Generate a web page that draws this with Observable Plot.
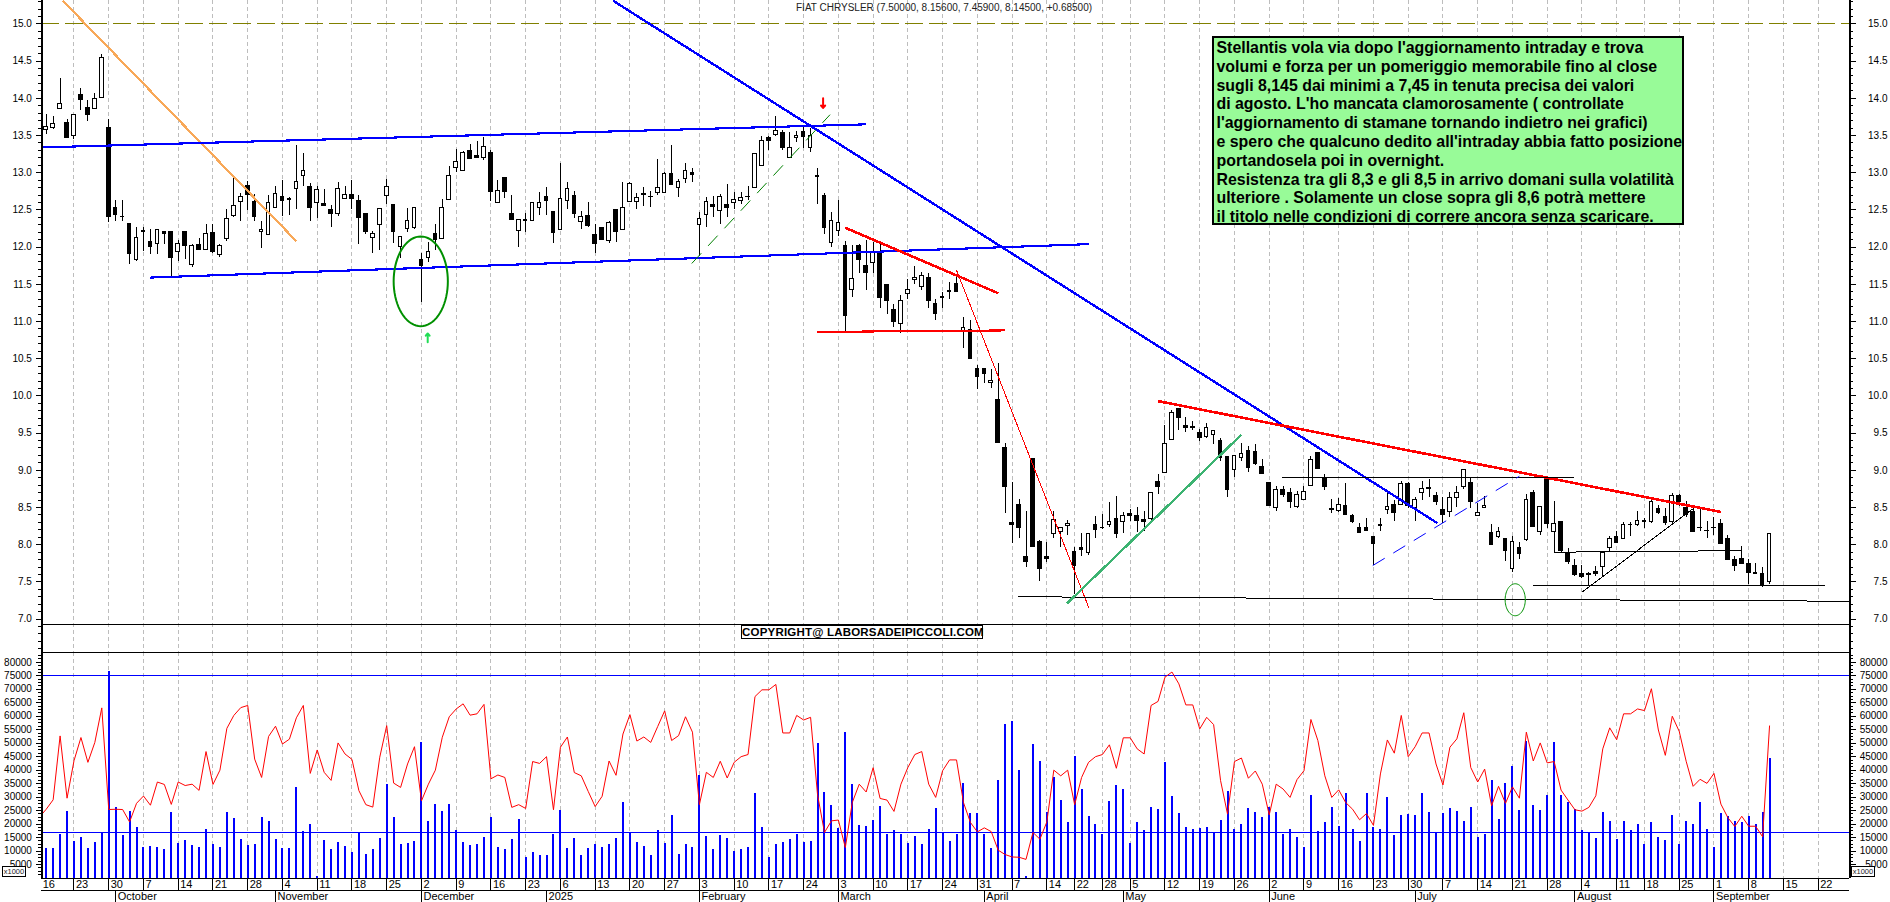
<!DOCTYPE html>
<html><head><meta charset="utf-8">
<script src="https://cdn.jsdelivr.net/npm/d3@7"></script>
<script src="https://cdn.jsdelivr.net/npm/@observablehq/plot@0.6"></script>
<style>
html,body{margin:0;padding:0;background:#fff;overflow:hidden}
#wrap{position:relative;width:1890px;height:902px;overflow:hidden;font-family:"Liberation Sans",Arial,sans-serif;color:#000}
#wrap svg{position:absolute;left:0;max-width:none}
.abs{position:absolute;white-space:pre;box-sizing:border-box}
#note{left:1212px;top:36px;width:472px;height:189px;background:#98FB98;border:2.5px solid #000;font:bold 15.9px/18.8px "Liberation Sans",Arial,sans-serif;padding:1px 0 0 2.5px;letter-spacing:0}
#title{left:796px;top:2px;font-size:10px;color:#222}
#copy{left:741px;top:625px;width:242px;height:14px;background:#fff;border:1px solid #000;font:bold 11.5px/12px "Liberation Sans",Arial,sans-serif;text-align:center;letter-spacing:.2px}
.k{font-size:7.5px;border:1px solid #000;height:11px;line-height:10px;text-align:center;background:#fff;color:#222}
</style></head><body><div id="wrap"></div>
<script>
const open=[13.57,13.6,13.86,13.67,13.49,14.04,13.87,13.86,14.0,13.6,
12.52,12.41,12.31,11.83,12.22,12.07,12.04,12.2,12.2,11.93,
12.2,11.76,12.03,11.96,12.19,11.89,12.11,12.42,12.6,12.82,
12.6,12.2,12.16,12.53,12.67,12.63,12.78,12.96,12.81,12.59,
12.58,12.5,12.45,12.64,12.7,12.62,12.44,12.12,12.3,12.69,
12.57,12.0,12.24,12.26,11.83,11.85,12.18,12.11,12.63,13.06,
13.02,13.29,13.22,13.2,13.26,12.59,12.93,12.44,12.22,12.36,
12.35,12.53,12.68,12.47,12.23,12.62,12.69,12.34,12.42,12.16,
12.26,12.08,12.5,12.23,12.6,12.61,12.71,12.68,12.73,12.73,
12.98,12.79,12.92,12.99,12.3,12.43,12.56,12.48,12.57,12.59,
12.62,12.68,12.8,13.09,13.46,13.51,13.54,13.2,13.47,13.55,
13.33,12.95,12.69,12.05,12.21,12.01,11.42,12.01,11.74,11.79,
11.93,11.49,11.15,10.96,11.37,11.56,11.46,11.58,11.23,11.33,
11.41,11.5,10.87,10.88,10.36,10.36,10.17,9.95,9.3,8.29,
8.54,7.83,9.15,8.04,7.84,8.15,8.17,8.25,7.9,7.95,
7.89,8.26,8.23,8.26,8.34,8.3,8.41,8.39,8.33,8.35,
8.84,8.96,9.41,9.82,9.6,9.58,9.5,9.45,9.48,9.4,
9.18,9.0,9.17,9.26,9.25,9.05,8.83,8.49,8.73,8.7,
8.51,8.6,8.79,9.23,8.9,8.48,8.45,8.52,8.38,8.23,
8.22,8.11,8.26,8.47,8.54,8.54,8.82,8.49,8.69,8.76,
8.66,8.46,8.44,8.63,8.78,8.83,8.39,8.5,8.16,8.11,
8.07,7.68,7.96,8.06,8.69,8.17,8.88,8.17,8.3,7.88,
7.72,7.61,7.6,7.63,7.7,7.96,8.1,8.08,8.27,8.26,
8.32,8.3,8.48,8.37,8.3,8.65,8.49,8.44,8.23,8.19,
8.23,8.28,8.07,7.8,7.81,7.74,7.62,7.61,7.5];
const high=[13.78,13.76,14.26,13.71,13.77,14.13,13.97,14.07,14.59,13.72,
12.63,12.63,12.31,12.26,12.26,12.23,12.24,12.2,12.2,12.09,
12.2,12.04,12.12,12.31,12.3,12.03,12.51,12.92,12.72,12.88,
12.71,12.34,12.69,12.82,12.89,12.67,13.36,13.26,12.85,12.82,
12.78,12.56,12.87,12.82,12.89,12.69,12.44,12.21,12.51,12.91,
12.57,12.13,12.52,12.53,11.91,12.06,12.31,12.64,13.08,13.31,
13.29,13.38,13.42,13.47,13.3,12.89,12.93,12.69,12.37,12.45,
12.6,12.74,12.8,12.47,13.12,12.87,12.75,12.48,12.6,12.3,
12.26,12.35,12.5,12.87,12.87,12.72,12.8,12.75,13.18,13.0,
13.36,12.91,13.12,13.05,12.46,12.67,12.68,12.71,12.84,12.73,
12.73,12.82,13.25,13.49,13.48,13.75,13.57,13.54,13.56,13.61,
13.6,13.06,12.72,12.47,12.63,12.08,12.02,12.04,12.09,12.06,
12.04,11.49,11.23,11.35,11.56,11.74,11.66,11.64,11.3,11.39,
11.52,11.61,11.06,11.01,10.41,10.36,10.36,10.43,9.36,8.84,
8.61,8.44,9.15,8.05,8.03,8.45,8.23,8.32,7.96,8.15,
8.14,8.38,8.41,8.57,8.65,8.43,8.47,8.5,8.45,8.7,
8.95,9.6,9.81,9.82,9.71,9.65,9.55,9.63,9.53,9.43,
9.18,9.19,9.36,9.32,9.35,9.14,8.83,8.78,8.78,8.76,
8.72,8.78,9.19,9.23,8.95,8.61,8.62,8.82,8.4,8.29,
8.35,8.11,8.35,8.7,8.59,8.85,8.84,8.63,8.85,8.87,
8.7,8.63,8.7,8.78,9.01,8.89,8.56,8.65,8.27,8.23,
8.07,8.11,8.03,8.67,8.73,8.51,8.9,8.58,8.3,7.95,
7.8,7.72,7.62,7.71,7.91,8.11,8.18,8.3,8.3,8.44,
8.35,8.61,8.53,8.49,8.69,8.67,8.58,8.49,8.49,8.31,
8.36,8.34,8.13,7.84,7.98,7.8,7.75,7.69,8.156];
const low=[13.51,13.58,13.85,13.46,13.45,13.83,13.69,13.86,14.0,12.33,
12.35,12.35,11.76,11.81,11.94,11.9,11.9,12.04,11.61,11.81,
11.83,11.73,11.96,11.95,11.92,11.86,12.08,12.4,12.35,12.49,
12.35,11.98,12.16,12.52,12.41,12.42,12.5,12.81,12.35,12.38,
12.55,12.27,12.41,12.64,12.51,12.03,12.17,11.92,11.96,12.57,
12.05,11.85,12.19,12.23,11.26,11.79,11.95,12.11,12.63,13.0,
13.01,13.19,13.2,13.16,12.61,12.58,12.65,12.36,12.0,12.19,
12.35,12.42,12.43,12.05,12.22,12.5,12.38,12.24,12.26,11.91,
12.09,12.05,12.06,12.23,12.6,12.5,12.54,12.53,12.7,12.73,
12.83,12.67,12.86,12.87,11.87,12.26,12.4,12.31,12.4,12.51,
12.57,12.63,12.8,13.09,13.3,13.49,13.3,13.2,13.41,13.32,
13.27,12.57,12.17,12.0,12.14,10.84,11.32,11.64,11.42,11.64,
11.17,11.1,10.92,10.84,11.3,11.5,11.41,11.17,11.01,11.17,
11.3,11.39,10.64,10.49,10.09,10.16,10.1,9.37,8.42,8.01,
8.09,7.69,7.97,7.5,7.76,8.09,7.96,8.12,7.33,7.84,
7.85,8.09,8.21,8.23,8.08,8.15,8.31,8.16,8.18,8.31,
8.68,8.96,9.41,9.53,9.51,9.53,9.39,9.43,9.35,9.12,
8.64,8.9,9.12,8.97,9.06,8.95,8.52,8.45,8.63,8.49,
8.49,8.6,8.79,9.02,8.73,8.42,8.43,8.4,8.28,8.16,
8.18,7.72,8.18,8.4,8.31,8.53,8.49,8.31,8.6,8.63,
8.53,8.29,8.36,8.5,8.74,8.49,8.39,8.49,8.0,8.09,
7.78,7.62,7.8,8.04,8.24,8.13,8.22,7.89,7.9,7.73,
7.57,7.54,7.44,7.57,7.57,7.91,8.02,8.07,8.11,8.25,
8.22,8.29,8.4,8.26,8.28,8.52,8.36,8.17,8.18,8.09,
8.13,8.01,7.79,7.64,7.73,7.47,7.6,7.42,7.459];
const close=[13.62,13.65,13.93,13.47,13.77,13.98,13.77,13.99,14.54,12.41,
12.43,12.4,11.91,12.12,12.2,12.0,12.23,12.18,11.86,12.04,
12.01,12.01,11.96,12.17,11.93,12.01,12.38,12.55,12.67,12.7,
12.4,12.23,12.59,12.71,12.62,12.65,12.87,13.02,12.53,12.77,
12.55,12.45,12.78,12.7,12.65,12.39,12.2,12.17,12.51,12.81,
12.2,12.13,12.35,12.53,11.75,11.93,12.09,12.53,12.95,13.14,
13.27,13.19,13.2,13.34,12.74,12.75,12.74,12.36,12.37,12.35,
12.59,12.59,12.62,12.19,12.65,12.78,12.44,12.41,12.28,12.04,
12.1,12.33,12.2,12.53,12.85,12.66,12.7,12.67,12.79,12.98,
12.83,12.87,13.02,12.97,12.38,12.61,12.54,12.67,12.53,12.63,
12.66,12.67,13.25,13.42,13.43,13.56,13.33,13.33,13.49,13.48,
13.5,12.94,12.26,12.35,12.32,11.08,11.57,11.82,11.65,11.94,
11.32,11.27,10.99,11.27,11.43,11.58,11.61,11.27,11.1,11.32,
11.4,11.4,10.91,10.49,10.26,10.29,10.2,9.37,8.78,8.27,
8.23,7.77,7.97,7.68,7.81,8.33,8.23,8.28,7.71,7.93,
8.14,8.2,8.22,8.3,8.15,8.38,8.38,8.32,8.3,8.7,
8.77,9.36,9.77,9.7,9.57,9.57,9.44,9.57,9.53,9.17,
8.74,9.19,9.22,9.03,9.08,8.95,8.52,8.74,8.67,8.58,
8.67,8.71,9.14,9.02,8.78,8.47,8.54,8.4,8.31,8.16,
8.18,8.01,8.25,8.51,8.43,8.81,8.52,8.6,8.75,8.75,
8.57,8.4,8.63,8.7,9.0,8.58,8.43,8.52,8.0,8.17,
7.91,8.03,7.87,8.6,8.24,8.51,8.28,8.28,7.91,7.77,
7.59,7.56,7.59,7.61,7.89,8.08,8.02,8.27,8.26,8.32,
8.31,8.58,8.42,8.29,8.65,8.57,8.4,8.17,8.22,8.18,
8.22,8.01,7.79,7.72,7.74,7.62,7.61,7.45,8.145];
const volume=[11000,10800,16200,24600,13600,14900,11000,13000,17000,76500,
26300,15600,24600,18600,11200,11500,11200,10500,24400,12900,
13800,12100,11300,17900,12500,11200,24400,22200,14400,11900,
12500,22600,21000,14400,11000,11000,33500,17100,20000,500,
13900,10400,13300,11500,9300,16600,8600,10700,14500,34700,
22300,12500,12900,13600,50200,21000,27100,24600,27100,17700,
13000,12000,12500,15200,22600,11200,10500,14300,21800,7600,
9300,8200,8400,16100,25200,11000,14800,8200,10900,12500,
11200,12500,14500,27900,16400,13000,11500,8400,17500,12900,
23100,8800,12300,11200,38200,15500,10700,15900,14800,10000,
10700,11200,31200,18600,7700,12600,13300,14100,16200,13000,
13600,49800,31600,27000,18500,53800,34600,19300,19100,21200,
26400,16200,17500,16200,12800,15400,12300,18100,25900,16900,
13500,16200,35000,24100,24100,16200,11000,36300,57000,58000,
39700,400,49600,43200,24300,37200,28600,20700,45000,32700,
22900,19700,16000,28500,34200,33000,12800,20700,17700,26200,
25300,42700,30100,24100,18600,18100,18200,18600,17000,21200,
32200,17900,19700,25700,24400,22600,26200,24400,16200,17900,
15000,11200,30500,17400,20700,26300,19200,31200,17900,13600,
31200,18700,17900,29800,15900,23100,23400,23100,31200,24400,
16500,23900,25700,24600,21000,26000,15100,16200,36000,21600,
35000,41200,24900,50600,26800,24900,30500,50100,30500,27900,
25300,17700,16500,14500,24400,21000,14400,21000,17700,19700,
12500,20500,15100,13800,23300,12300,21000,19700,28100,17900,
11400,23800,22900,21000,20700,22900,19700,24400,44300];
const oscillator=[22500,25500,29000,52700,29600,43500,52100,42900,50300,63100,25400,
25500,25400,20800,27700,30400,27000,35600,34700,27300,35600,
34300,34800,32500,46900,34700,40000,55500,60300,63200,64000,
44100,37300,52500,56300,49700,51500,59400,64000,38800,47500,
39200,36200,50100,46000,44000,32400,27200,26300,44800,56500,
35200,33600,42300,48700,28600,34800,40000,52200,59800,62700,
64600,60400,60900,64400,36800,38200,37300,26200,27200,25800,
43200,42500,45000,25300,48500,52300,39100,37900,32100,26500,
30300,43400,38100,53400,60600,50800,52300,50300,56200,62000,
51000,52800,59800,54100,27200,39200,37300,43300,37100,42900,
45000,45800,67300,69800,69800,71800,53800,53800,60300,58600,
59600,30900,16900,21200,21500,11300,28000,34800,31900,40900,
29500,28900,24700,34800,41000,45800,46900,34800,29900,39800,
43800,43800,28000,20600,17100,18600,17200,10300,8700,7800,
7700,6900,16900,14400,20800,40000,37900,40000,27200,37300,
42900,45000,45800,49400,40700,52000,52000,47900,46000,64000,
65500,74500,76400,72000,64200,64200,55300,59600,56900,36100,
23700,43200,44500,37000,39700,34800,23400,34800,33000,29900,
36500,39800,58800,51000,37900,29900,32700,28000,25500,21600,
23900,19500,38600,51200,46300,60300,45000,48700,53800,53800,
42300,34500,48500,51600,61300,41000,35600,40400,26800,34000,
27700,33800,29600,54100,43400,50100,42700,43200,32600,28900,
25300,24800,26200,30500,47900,55700,51300,60900,60900,62700,
62100,70200,54900,45500,60000,54400,43300,34000,36600,35100,
38800,27400,22400,19100,22900,19200,19200,15300,56400];

const weekIdx=[4,9,14,19,24,29,34,39,44,49,54,59,64,69,74,79,84,89,94,99,104,109,114,119,124,129,134,139,144,148,152,156,161,166,171,176,181,186,191,196,201,206,211,216,221,226,230,235,240,245,250,255];
const weekLabels=["23","30","7","14","21","28","4","11","18","25","2","9","16","23","6","13","20","27","3","10","17","24","3","10","17","24","31","7","14","22","28","5","12","19","26","2","9","16","23","30","7","14","21","28","4","11","18","25","1","8","15","22"];
const firstDayLabel="16";
const monthIdx=[10,33,54,72,94,114,135,155,176,197,220,240];
const monthLabels=["October","November","December","2025","February","March","April","May","June","July","August","September"];
const priceMajor=d3.range(7,15.01,0.5);
const priceMinor=d3.range(6.6,15.31,0.1);
const volMajor=d3.range(5000,80001,5000);
const volMinor=d3.range(1250,83001,1250);
const noteLines=["Stellantis vola via dopo l'aggiornamento intraday e trova",
"volumi e forza per un pomeriggio memorabile fino al close",
"sugli 8,145 dai minimi a 7,45 in tenuta precisa dei valori",
"di agosto. L'ho mancata clamorosamente ( controllate",
"l'aggiornamento di stamane tornando indietro nei grafici)",
"e spero che qualcuno dedito all'intraday abbia fatto posizione",
"portandosela poi in overnight.",
"Resistenza tra gli 8,3 e gli 8,5 in arrivo domani sulla volatilità",
"ulteriore . Solamente un close sopra gli 8,6 potrà mettere",
"il titolo nelle condizioni di correre ancora senza scaricare."];

// trend lines in (candle index, price)
const BLUE="#0000ff",RED="#ff0000",BLK="#000";
const trendLines=[
 {x1:2.4,y1:15.31,x2:36,y2:12.08,c:"#f8a858",w:2.2},
 {x1:-0.6,y1:13.34,x2:118,y2:13.65,c:BLUE,w:2.1},
 {x1:14.9,y1:11.59,x2:150.1,y2:12.04,c:BLUE,w:2.1},
 {x1:81.6,y1:15.31,x2:200.2,y2:8.29,c:BLUE,w:2.4},
 {x1:115,y1:12.26,x2:137,y2:11.38,c:RED,w:2.6},
 {x1:131,y1:11.69,x2:150.05,y2:7.15,c:RED,w:1},
 {x1:110.9,y1:10.86,x2:138,y2:10.88,c:RED,w:2.1},
 {x1:139.9,y1:7.3,x2:259.6,y2:7.24,c:BLK,w:1},
 {x1:146.9,y1:7.21,x2:172,y2:9.48,c:"#3cb371",w:2.4},
 {x1:160,y1:9.93,x2:241,y2:8.44,c:RED,w:2.6},
 {x1:177.9,y1:8.9,x2:219.9,y2:8.9,c:BLK,w:1},
 {x1:218,y1:7.9,x2:244,y2:7.92,c:BLK,w:1},
 {x1:217,y1:7.89,x2:218,y2:7.89,c:BLK,w:1},
 {x1:213.9,y1:7.45,x2:256,y2:7.45,c:BLK,w:1},
 {x1:221,y1:7.36,x2:236.9,y2:8.48,c:BLK,w:1}
];
const dashedLines=[
 {x1:92.9,y1:11.78,x2:112.8,y2:13.78,c:"#008000"},
 {x1:190.9,y1:7.72,x2:212,y2:8.92,c:BLUE}
];
const ellipses=[{cx:53.9,cy:11.54,rx:3.9,ry:0.603,w:2},{cx:211.4,cy:7.26,rx:1.45,ry:0.215,w:1}];
const ellipsePts=ellipses.flatMap((e,k)=>d3.range(0,73).map(a=>({k,w:e.w,x:e.cx+e.rx*Math.cos(a*Math.PI/36),y:e.cy+e.ry*Math.sin(a*Math.PI/36)})));
const arrows=[{x1:111.8,y1:14.0,x2:111.8,y2:13.87,c:"#ff0000"},{x1:54.9,y1:10.72,x2:54.9,y2:10.84,c:"#22dd55"}];

const candles=open.map((o,i)=>({i,open:o,high:high[i],low:low[i],close:close[i]}));
const up=candles.filter(d=>d.close>=d.open), down=candles.filter(d=>d.close<d.open);
const bars=volume.map((v,i)=>({i,v}));
const osc=oscillator.map((v,i)=>({i:i-1,v}));

const xScale={domain:[0,248],range:[45.7,45.7+6.949*248],axis:null};
const common={width:1890,marginLeft:41.4,marginRight:40.6,marginTop:0,x:xScale,
 style:{background:"none",fontFamily:'"Liberation Sans",Arial,sans-serif',fontSize:"10px",color:"#000",overflow:"visible"}};
const crisp={shapeRendering:"crispEdges"};
const grid=Plot.ruleX(weekIdx,{stroke:"#bdbdbd",strokeDasharray:"3.5,3.5",strokeWidth:1,...crisp});
const frameL=Plot.ruleX([-0.62],{stroke:"#000",strokeWidth:1.5,...crisp});
const frameR=Plot.ruleX([259.6],{stroke:"#000",strokeWidth:1.5,...crisp});
const ticksFor=(anchor,major,minor,fmt,pad)=>[
 Plot.axisY(minor,{anchor,tickSize:3,fill:"none",label:null,...crisp}),
 Plot.axisY(major,{anchor,tickSize:anchor==="left"?5:6,label:null,tickFormat:fmt,
   ...(anchor==="left"?{tickPadding:5}:{tickPadding:31.6,textAnchor:"end"}),...crisp})
];

const pricePlot=Plot.plot({...common,height:652,marginBottom:0,
 y:{domain:[15,7],range:[23.4,618.6]},
 marks:[
  grid,
  Plot.ruleY([15],{stroke:"#808000",strokeDasharray:"18,6",strokeWidth:1,...crisp}),
  Plot.ruleX(candles,{x:"i",y1:"low",y2:"high",stroke:"#000",strokeWidth:1,...crisp}),
  Plot.rect(down,{x1:d=>d.i-0.26,x2:d=>d.i+0.26,y1:"open",y2:"close",fill:"#000",stroke:"#000",strokeWidth:1,...crisp}),
  Plot.rect(up,{x1:d=>d.i-0.26,x2:d=>d.i+0.26,y1:"open",y2:"close",fill:"#fff",stroke:"#000",strokeWidth:1,...crisp}),
  Plot.link(trendLines,{x1:"x1",y1:"y1",x2:"x2",y2:"y2",stroke:d=>d.c,strokeWidth:d=>d.w,...crisp}),
  Plot.link(dashedLines,{x1:"x1",y1:"y1",x2:"x2",y2:"y2",stroke:d=>d.c,strokeWidth:1,strokeDasharray:"14,10"}),
  Plot.line(ellipsePts,{x:"x",y:"y",z:"k",stroke:"#009000",strokeWidth:d=>d.w}),
  Plot.arrow(arrows,{x1:"x1",y1:"y1",x2:"x2",y2:"y2",stroke:d=>d.c,strokeWidth:2,headLength:5,headAngle:80}),
  Plot.ruleY([6.927],{stroke:"#000",strokeWidth:1,...crisp}),
  frameL,frameR,
  ...ticksFor("left",priceMajor,priceMinor,d3.format(".1f")),
  ...ticksFor("right",priceMajor,priceMinor,d3.format(".1f"))
 ]});
pricePlot.style.top="0px";

const ROW1=-4640,ROW2=-9100;
const volPlot=Plot.plot({...common,height:250,marginBottom:24.5,
 y:{domain:[0,75000],range:[225.5,23.3]},
 marks:[
  grid,
  Plot.ruleX(bars,{x:"i",y1:0,y2:"v",stroke:"#0000ff",strokeWidth:2,...crisp}),
  Plot.ruleY([75000,16765],{stroke:"#0000ff",strokeWidth:1,...crisp}),
  Plot.line(osc,{x:"i",y:"v",stroke:"#ff0000",strokeWidth:1,clip:true}),
  Plot.ruleY([83457],{stroke:"#000",strokeWidth:1,...crisp}),
  Plot.ruleY([0,ROW1],{stroke:"#000",strokeWidth:1,...crisp}),
  Plot.ruleX(weekIdx,{y1:0,y2:ROW1,stroke:"#000",strokeWidth:1,...crisp}),
  Plot.ruleX(monthIdx,{y1:ROW1,y2:ROW2,stroke:"#000",strokeWidth:1,...crisp}),
  Plot.text(weekLabels,{x:(d,i)=>weekIdx[i],y:ROW1/2,text:d=>d,textAnchor:"start",dx:2,fontSize:11}),
  Plot.text([firstDayLabel],{x:[-0.5],y:ROW1/2,text:d=>d,textAnchor:"start",fontSize:11}),
  Plot.text(monthLabels,{x:(d,i)=>monthIdx[i],y:(ROW1+ROW2)/2,text:d=>d,textAnchor:"start",dx:2,fontSize:11}),
  frameL,frameR,
  ...ticksFor("left",volMajor,volMinor,d3.format("d")),
  ...ticksFor("right",volMajor,volMinor,d3.format("d"))
 ]});
volPlot.style.top="652px";

const wrap=document.getElementById("wrap");
wrap.append(pricePlot,volPlot);
const add=(id,cls,txt,css)=>{const e=document.createElement("div");if(id)e.id=id;e.className="abs "+(cls||"");e.textContent=txt;if(css)e.style.cssText=css;wrap.append(e);};
add("title","","FIAT CHRYSLER (7.50000, 8.15600, 7.45900, 8.14500, +0.68500)");
add("note","",noteLines.join("\n"));
add("copy","","COPYRIGHT@ LABORSADEIPICCOLI.COM");
add("","k","x1000","left:2px;top:866px;width:24px;");
add("","k","x1000","left:1851px;top:866px;width:24px;");
</script></body></html>
